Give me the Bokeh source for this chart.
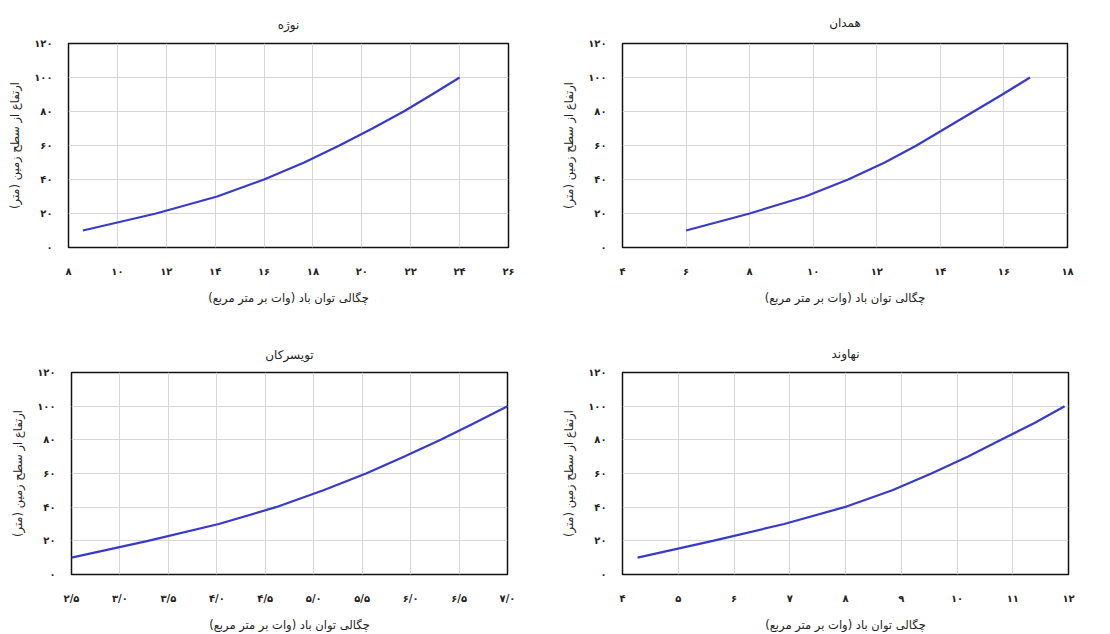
from bokeh.plotting import figure
from bokeh.layouts import column, row
from bokeh.models import FixedTicker, Range1d
from bokeh.embed import file_html
from bokeh.resources import INLINE

# ---- data ----
heights = [10, 20, 30, 40, 50, 60, 70, 80, 90, 100]

nowzheh_x = [8.59, 11.58, 14.08, 16.0, 17.64, 19.08, 20.43, 21.71, 22.87, 24.0]
hamedan_x = [6.0, 8.0, 9.75, 11.1, 12.25, 13.25, 14.15, 15.05, 15.95, 16.82]
tuyserkan_x = [2.5, 3.29, 4.02, 4.61, 5.10, 5.54, 5.93, 6.31, 6.66, 7.0]
nahavand_x = [4.27, 5.62, 6.9, 7.98, 8.84, 9.54, 10.19, 10.79, 11.39, 11.93]

titles = ["نوژه", "همدان", "تویسرکان", "نهاوند"]
y_label = "ارتفاع از سطح زمین (متر)"
x_label = "چگالی توان باد (وات بر متر مربع)"

y_ticks = [0, 20, 40, 60, 80, 100, 120]
y_tick_labels = ["۰", "۲۰", "۴۰", "۶۰", "۸۰", "۱۰۰", "۱۲۰"]

nowzheh_ticks = [8, 10, 12, 14, 16, 18, 20, 22, 24, 26]
nowzheh_labels = ["۸", "۱۰", "۱۲", "۱۴", "۱۶", "۱۸", "۲۰", "۲۲", "۲۴", "۲۶"]
hamedan_ticks = [4, 6, 8, 10, 12, 14, 16, 18]
hamedan_labels = ["۴", "۶", "۸", "۱۰", "۱۲", "۱۴", "۱۶", "۱۸"]
tuyserkan_ticks = [2.5, 3.0, 3.5, 4.0, 4.5, 5.0, 5.5, 6.0, 6.5, 7.0]
tuyserkan_labels = ["۲/۵", "۳/۰", "۳/۵", "۴/۰", "۴/۵", "۵/۰", "۵/۵", "۶/۰", "۶/۵", "۷/۰"]
nahavand_ticks = [4, 5, 6, 7, 8, 9, 10, 11, 12]
nahavand_labels = ["۴", "۵", "۶", "۷", "۸", "۹", "۱۰", "۱۱", "۱۲"]

FONT = "DejaVu Sans"
LINE_COLOR = "#3a3ac8"


def make(title, xs, ticks, labels, w, h, left, right, top, bottom, title_gap):
    p = figure(width=w, height=h, output_backend="svg", toolbar_location=None,
               x_range=Range1d(ticks[0], ticks[-1]), y_range=Range1d(0, 120),
               min_border_left=left, min_border_right=right,
               min_border_top=top, min_border_bottom=bottom)
    p.title.text = title
    p.title.align = "center"
    p.title.text_font = FONT
    p.title.text_font_size = "12px"
    p.title.text_font_style = "normal"
    p.title.text_color = "#222222"
    p.title.standoff = title_gap
    p.line(xs, heights, line_color=LINE_COLOR, line_width=2.2)

    p.xaxis.ticker = FixedTicker(ticks=ticks)
    p.xaxis.major_label_overrides = {t: l for t, l in zip(ticks, labels)}
    p.yaxis.ticker = FixedTicker(ticks=y_ticks)
    p.yaxis.major_label_overrides = {t: l for t, l in zip(y_ticks, y_tick_labels)}

    for ax in (p.xaxis, p.yaxis):
        ax.major_tick_line_color = None
        ax.minor_tick_line_color = None
        ax.axis_line_color = None
        ax.major_label_text_font = FONT
        ax.major_label_text_font_size = "10px"
        ax.major_label_text_font_style = "bold"
        ax.major_label_text_color = "#222222"
        ax.axis_label_text_font = FONT
        ax.axis_label_text_font_size = "11.5px"
        ax.axis_label_text_font_style = "normal"
        ax.axis_label_text_color = "#222222"
    p.xaxis.axis_label = x_label
    p.yaxis.axis_label = y_label
    p.xaxis.major_label_standoff = 12
    p.xaxis.axis_label_standoff = 11
    p.yaxis.major_label_standoff = 10
    p.yaxis.axis_label_standoff = 9

    p.xgrid.grid_line_color = "#d6d6d6"
    p.ygrid.grid_line_color = "#d6d6d6"
    p.xgrid.grid_line_width = 1
    p.ygrid.grid_line_width = 1
    p.outline_line_color = "#111111"
    p.outline_line_width = 1.5
    p.outline_line_alpha = 1
    p.background_fill_color = "white"
    p.border_fill_color = "white"
    return p


p1 = make(titles[0], nowzheh_x, nowzheh_ticks, nowzheh_labels, 555, 317, 68, 47, 42, 67, 24)
p2 = make(titles[1], hamedan_x, hamedan_ticks, hamedan_labels, 555, 317, 67, 43, 39, 70, 27)
p3 = make(titles[2], tuyserkan_x, tuyserkan_ticks, tuyserkan_labels, 555, 317, 71, 48, 55, 56, 21)
p4 = make(titles[3], nahavand_x, nahavand_ticks, nahavand_labels, 555, 317, 67, 42, 49, 60, 23)

layout = column(row(p1, p2), row(p3, p4))
open("out.html", "w").write(file_html(layout, INLINE))
